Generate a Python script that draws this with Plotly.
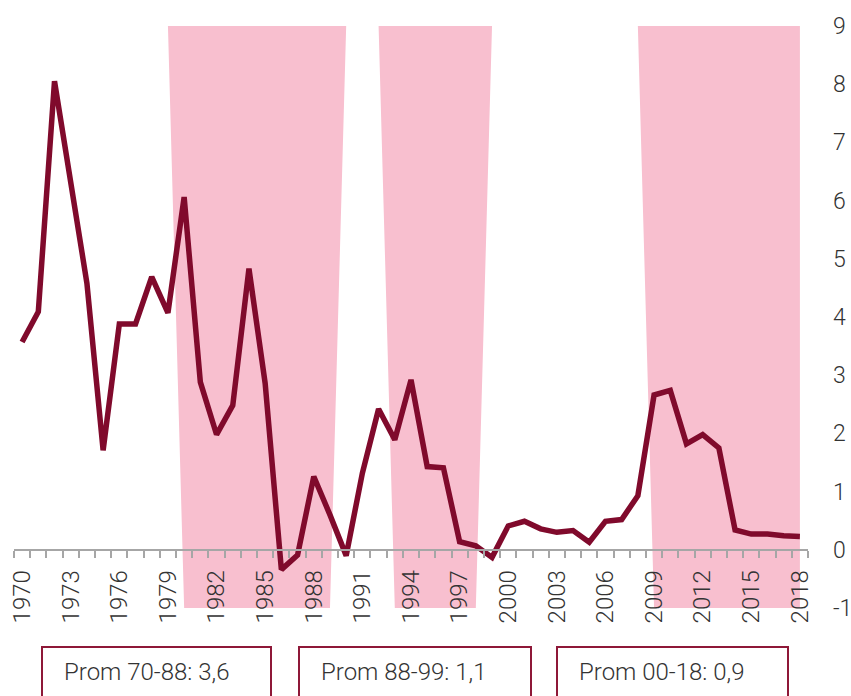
import plotly.graph_objects as go

# ---- data ----
years = list(range(1970, 2019))
values = [3.57, 4.09, 8.05, 6.30, 4.58, 1.71, 3.88, 3.88, 4.69, 4.07,
          6.06, 2.88, 1.98, 2.48, 4.83, 2.86, -0.34, -0.09, 1.26, 0.60,
          -0.10, 1.32, 2.42, 1.89, 2.92, 1.43, 1.41, 0.14, 0.07, -0.13,
          0.41, 0.49, 0.36, 0.30, 0.33, 0.13, 0.49, 0.52, 0.93, 2.66,
          2.74, 1.82, 1.98, 1.75, 0.34, 0.27, 0.27, 0.24, 0.23]
# shaded periods (1 = shaded year)
shade_periods = [(1980, 1989), (1993, 1998), (2009, 2018)]
shade_flags = [10 if any(a <= y <= b for a, b in shade_periods) else 0 for y in years]
box_labels = ["Prom 70-88: 3,6", "Prom 88-99: 1,1", "Prom 00-18: 0,9"]
y_ticks = list(range(-1, 10))
x_label_years = list(range(1970, 2019, 3))

LINE = "#800A2C"
PINK = "#F8BFCF"
BOX = "#8E1838"
TXT = "#333333"
FONT = "Roboto"

fig = go.Figure()
# shading on reversed base axis
fig.add_trace(go.Scatter(x=years, y=shade_flags, mode="lines", fill="tozeroy",
                         fillcolor=PINK, line=dict(width=0), yaxis="y",
                         hoverinfo="skip", showlegend=False))
# main line on overlay axis
fig.add_trace(go.Scatter(x=years, y=values, mode="lines", yaxis="y2",
                         line=dict(color=LINE, width=5.5, shape="linear"),
                         showlegend=False))

W, H = 851, 696
ml, mr, mt, mb = 14, 43, 26, 88
pw, ph = W - ml - mr, H - mt - mb

def px2paper_x(px):
    return (px - ml) / pw

def px2paper_y(py):
    return (H - mb - py) / ph

fig.update_layout(
    width=W, height=H,
    margin=dict(l=ml, r=mr, t=mt, b=mb, autoexpand=False),
    plot_bgcolor="white", paper_bgcolor="white",
    font=dict(family=FONT, size=24, color=TXT, weight=300),
    xaxis=dict(range=[1969.5, 2018.5], anchor="free", position=0.1,
               automargin=False,
               showgrid=False, zeroline=False,
               showline=True, linecolor="#A6A6A6", linewidth=1.5,
               tickmode="array", tickvals=x_label_years,
               ticktext=[str(v) for v in x_label_years],
               ticks="outside", ticklen=0, tickangle=-90,
               ticklabelstandoff=10,
               tickfont=dict(family=FONT, size=24, color=TXT, weight=300),
               minor=dict(tick0=1969.5, dtick=1, ticks="outside", ticklen=7,
                          tickcolor="#A6A6A6", tickwidth=1.5, showgrid=False)),
    yaxis=dict(range=[10, 0], visible=False, showgrid=False, zeroline=False,
               automargin=False),
    yaxis2=dict(range=[-1, 9], overlaying="y", side="right", showgrid=False,
                automargin=False,
                zeroline=False, showline=False, tickmode="array",
                tickvals=y_ticks, ticktext=[str(v) for v in y_ticks],
                ticks="", ticklabelstandoff=24,
                tickfont=dict(family=FONT, size=23, color=TXT, weight=300)),
    hovermode=False,
)

# boxes at the bottom
box_x = [(42, 271), (299, 531), (557, 788)]
for (x0, x1), lab in zip(box_x, box_labels):
    fig.add_shape(type="rect", xref="paper", yref="paper",
                  x0=px2paper_x(x0), x1=px2paper_x(x1),
                  y0=px2paper_y(740), y1=px2paper_y(647),
                  line=dict(color=BOX, width=2), fillcolor="rgba(0,0,0,0)")
    fig.add_annotation(xref="paper", yref="paper",
                       x=px2paper_x(x0 + 20), y=px2paper_y(672),
                       xanchor="left", yanchor="middle", showarrow=False,
                       text=lab, font=dict(family=FONT, size=24, color=TXT, weight=300))

fig.write_html("out.html", config={"displayModeBar": False},
               post_script="document.body.style.margin='0';document.body.style.overflow='hidden';")
